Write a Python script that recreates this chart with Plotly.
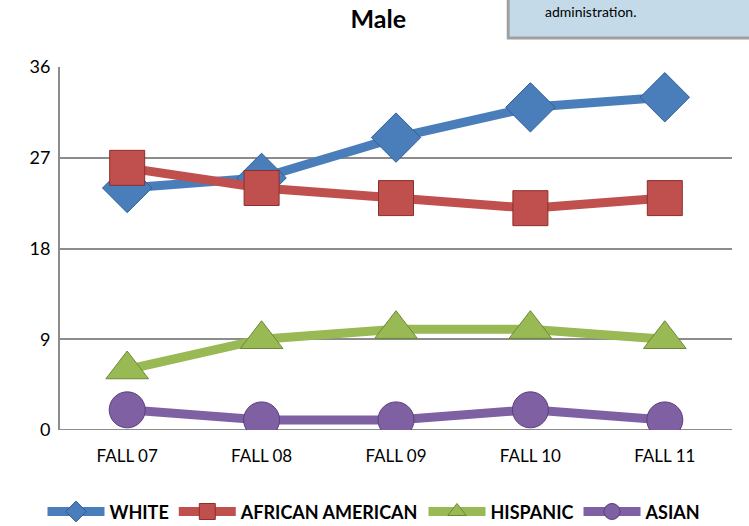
import plotly.graph_objects as go

terms = ['FALL 07', 'FALL 08', 'FALL 09', 'FALL 10', 'FALL 11']
white = [24, 25, 29, 32, 33]
african_american = [26, 24, 23, 22, 23]
hispanic = [6, 9, 10, 10, 9]
asian = [2, 1, 1, 2, 1]

series = [
    ('WHITE', white, '#4a7ebb', '#2f5f98', 'diamond', 38),
    ('AFRICAN AMERICAN', african_american, '#c0504d', '#8c2f2c', 'square', 35),
    ('HISPANIC', hispanic, '#98b954', '#6b8a35', 'triangle-up', 37),
    ('ASIAN', asian, '#7f60a2', '#5a3f7c', 'circle', 36),
]

fig = go.Figure()
for name, vals, col, edge, sym, sz in series:
    fig.add_trace(go.Scatter(
        x=terms, y=vals, name=name, mode='lines+markers',
        line=dict(color=col, width=9),
        marker=dict(symbol=sym, size=sz, color=col,
                    line=dict(color=edge, width=1)),
    ))

fig.update_layout(
    width=749, height=526,
    paper_bgcolor='white', plot_bgcolor='white',
    font=dict(family='Lato, Open Sans, sans-serif', size=15, color='black'),
    margin=dict(l=60, r=17, t=67, b=96),
    title=dict(text='<b>Male</b>', x=0.505, xanchor='center', y=0.964, yanchor='middle',
               font=dict(size=25)),
    xaxis=dict(type='category', range=[-0.5, 4.5], showgrid=False, showline=False,
               ticks='', ticklabelstandoff=14, tickfont=dict(size=17)),
    yaxis=dict(range=[0, 36], dtick=9, showgrid=True, gridcolor='#8c8c8c', gridwidth=1.5,
               showline=True, linecolor='#8c8c8c', linewidth=2, zeroline=False,
               ticks='', ticklabelstandoff=4, tickfont=dict(size=18)),
    legend=dict(orientation='h', x=0.5, xanchor='center', xref='container',
                y=0.027, yanchor='middle', yref='container',
                font=dict(size=18, family='Lato, sans-serif', weight='bold'),
                itemwidth=57, traceorder='normal'),
    showlegend=True,
)
# baseline at zero
fig.add_shape(type='line', xref='paper', yref='y', x0=0, x1=1, y0=0, y1=0,
              line=dict(color='#8c8c8c', width=2), layer='below')

# text box at top right
fig.add_shape(type='rect', xref='paper', yref='paper', x0=0.667, x1=1.05, y0=1.08, y1=1.3,
              fillcolor='#c5dae8', line=dict(color='#a0a0a0', width=3))
fig.add_annotation(text='administration.', xref='paper', yref='paper', x=0.789, y=1.152,
                   xanchor='center', yanchor='middle', showarrow=False, font=dict(size=14))

# drop the default page margin so the figure fills the window
fig.write_html('out.html', config={'displayModeBar': False},
               post_script="document.body.style.margin='0';")
